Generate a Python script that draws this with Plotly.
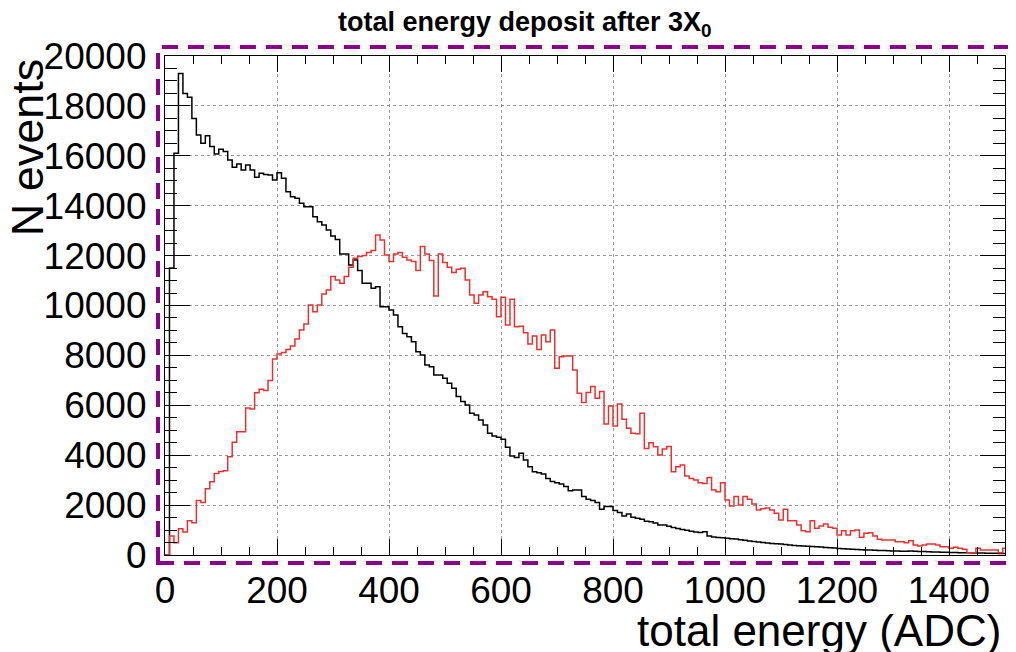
import plotly.graph_objects as go

# Histogram binning (ADC)
bin_width = 8
x_ticks = [0, 200, 400, 600, 800, 1000, 1200, 1400]
y_ticks = [0, 2000, 4000, 6000, 8000, 10000, 12000, 14000, 16000, 18000, 20000]

# black histogram (bin contents)
black_counts = [
    0, 11500, 16100, 19300, 18500, 18350, 17500, 16830, 16500, 16800,
    16370, 16070, 16260, 16170, 15830, 15540, 15670, 15430, 15630, 15430,
    15140, 15300, 15250, 15230, 15030, 15320, 15100, 14560, 14360, 14300,
    14100, 13960, 13960, 13560, 13360, 13230, 13030, 12790, 12650, 12060,
    12060, 11620, 11820, 11400, 10890, 10890, 10690, 10750, 9950, 9950,
    9820, 9620, 9150, 8880, 8750, 8550, 8150, 8020, 7620, 7550,
    7210, 7210, 7080, 6880, 6680, 6350, 6150, 6010, 5680, 5610,
    5410, 5210, 4880, 4770, 4720, 4640, 4320, 3970, 3910, 4080,
    3810, 3540, 3340, 3300, 3250, 3070, 2950, 2900, 2850, 2750,
    2580, 2605, 2605, 2340, 2230, 2180, 2100, 1830, 1940, 1940,
    1780, 1700, 1560, 1640, 1510, 1470, 1430, 1350, 1330, 1280,
    1200, 1200, 1150, 1100, 1060, 1020, 990, 950, 920, 900,
    930, 760, 720, 700, 690, 670, 650, 640, 610, 590,
    560, 540, 520, 500, 480, 460, 450, 440, 420, 400,
    380, 370, 360, 350, 340, 330, 320, 300, 290, 280,
    260, 250, 240, 230, 220, 210, 200, 200, 190, 180,
    180, 170, 160, 160, 150, 150, 160, 150, 140, 140,
    130, 120, 120, 110, 110, 100, 100, 90, 90, 90,
    80, 80, 80, 70, 70, 70, 60, 60,
]

# red histogram (bin contents)
red_counts = [
    0, 760, 495, 1055, 920, 1375, 1295, 2180, 2100, 2660,
    2940, 3270, 3350, 3380, 3940, 4520, 4940, 4940, 5890, 5850,
    6500, 6640, 6590, 6990, 7860, 8060, 8120, 8240, 8380, 8660,
    9020, 9260, 10020, 9750, 10020, 10460, 10620, 11160, 11020, 10890,
    11160, 11530, 11890, 11960, 12000, 12120, 12200, 12830, 12625, 12020,
    11760, 12060, 12120, 11930, 11820, 11760, 11400, 12360, 12060, 11800,
    10380, 12060, 11720, 11530, 11320, 11450, 11490, 11020, 10420, 10090,
    10420, 10550, 10350, 10250, 9550, 10330, 9220, 10250, 9150, 9170,
    8910, 8460, 8780, 8240, 8820, 8550, 9020, 7480, 7950, 7980,
    7980, 7410, 6480, 6110, 6510, 6750, 6280, 6550, 5250, 5970,
    5170, 6050, 5440, 5080, 4880, 4860, 5680, 4270, 4500, 4340,
    4010, 4250, 4350, 3340, 3540, 3610, 3170, 3070, 3010, 2900,
    2870, 3110, 2610, 2540, 2900, 2200, 1960, 2340, 2000, 2340,
    2230, 2040, 1800, 1850, 1880, 1800, 1670, 1400, 1830, 1375,
    1375, 1200, 975, 935, 1375, 1070, 1160, 1240, 1110, 1070,
    800, 975, 800, 975, 1000, 710, 870, 895, 760, 630,
    600, 600, 600, 535, 535, 495, 575, 400, 360, 400,
    440, 440, 400, 334, 334, 267, 307, 267, 227, 93,
    93, 267, 200, 200, 200, 200, 93, 267,
]


def step_xy(counts):
    edges = [i * bin_width for i in range(len(counts) + 1)]
    return edges, list(counts) + [counts[-1]]


FONT = "Liberation Sans"

fig = go.Figure()
bx, by = step_xy(black_counts)
fig.add_trace(go.Scatter(x=bx, y=by, mode="lines",
                         line=dict(color="black", width=1.5, shape="hv"),
                         showlegend=False, hoverinfo="skip"))
rx, ry = step_xy(red_counts)
fig.add_trace(go.Scatter(x=rx, y=ry, mode="lines",
                         line=dict(color="#e8322f", width=1.5, shape="hv"),
                         showlegend=False, hoverinfo="skip"))

# page body adds an 8px offset, so the figure is 8px smaller and shifted
fig.update_layout(
    width=1008, height=644,
    margin=dict(l=157, r=11, t=48, b=97),
    paper_bgcolor="white", plot_bgcolor="white",
    font=dict(family=FONT, color="black"),
    showlegend=False,
)

fig.update_xaxes(
    range=[0, 1500], tickmode="array", tickvals=x_ticks,
    ticktext=[str(v) for v in x_ticks],
    ticks="inside", ticklen=16, tickwidth=1, tickcolor="black",
    showline=True, linecolor="black", linewidth=1.2, mirror="ticks",
    showgrid=True, gridcolor="#999999", gridwidth=1, griddash="dot",
    zeroline=False,
    minor=dict(tickmode="linear", tick0=0, dtick=50, ticks="inside",
               ticklen=8, tickcolor="black", tickwidth=1, showgrid=False),
    tickfont=dict(size=37, family=FONT, color="black"),
    ticklabelstandoff=2,
)
fig.update_yaxes(
    range=[0, 20000], tickmode="array", tickvals=y_ticks,
    ticktext=[str(v) for v in y_ticks],
    ticks="inside", ticklen=25, tickwidth=1, tickcolor="black",
    showline=True, linecolor="black", linewidth=1.2, mirror="ticks",
    showgrid=True, gridcolor="#999999", gridwidth=1, griddash="dot",
    zeroline=False,
    minor=dict(tickmode="linear", tick0=0, dtick=500, ticks="inside",
               ticklen=12, tickcolor="black", tickwidth=1, showgrid=False),
    tickfont=dict(size=37, family=FONT, color="black"),
    ticklabelstandoff=10,
)

# purple dashed frame
fig.add_shape(type="rect", xref="paper", yref="paper",
              x0=-0.0083, x1=1.0119, y0=-0.016, y1=1.018,
              line=dict(color="#8b008b", width=4, dash="16px,10px"),
              fillcolor="rgba(0,0,0,0)", layer="above")

fig.add_annotation(text="<b>total energy deposit after 3X<sub>0</sub></b>",
                   xref="paper", yref="paper", x=0.4286, y=1.064,
                   xanchor="center", yanchor="middle", showarrow=False,
                   font=dict(size=27, family=FONT, color="black"))
fig.add_annotation(text="N events", textangle=-90,
                   xref="paper", yref="paper", x=-0.164, y=1.0,
                   xanchor="center", yanchor="top", showarrow=False,
                   font=dict(size=45, family=FONT, color="black"))
fig.add_annotation(text="total energy (ADC)",
                   xref="paper", yref="paper", x=0.9976, y=-0.152,
                   xanchor="right", yanchor="middle", showarrow=False,
                   font=dict(size=44, family=FONT, color="black"))

fig.write_html("out.html")
